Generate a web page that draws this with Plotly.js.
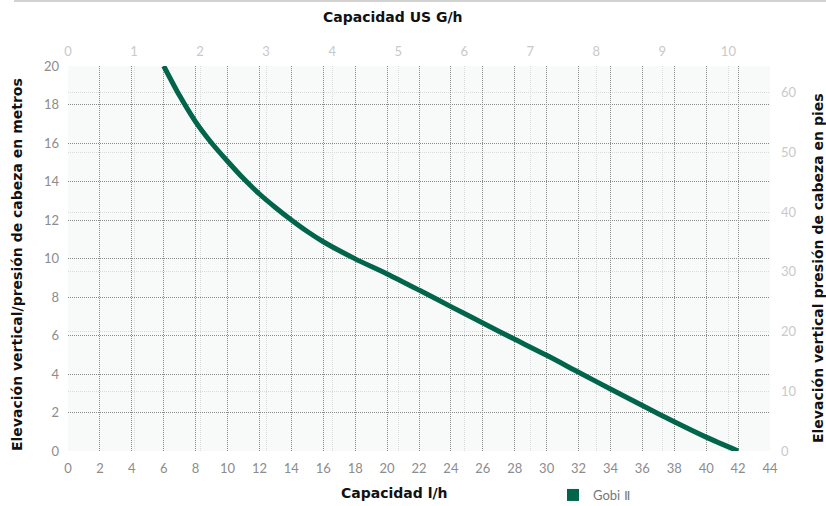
<!DOCTYPE html>
<html>
<head>
<meta charset="utf-8">
<script src="https://cdn.plot.ly/plotly-3.0.1.min.js"></script>
<style>
  html, body { margin: 0; padding: 0; background: #fff; }
  #wrap { position: relative; width: 826px; height: 506px; overflow: hidden; }
  #topline { position: absolute; top: 0; left: 14px; right: 0; height: 2px; background: #d2d2d2; z-index: 5; }
  #chart { width: 826px; height: 506px; }
</style>
</head>
<body>
<div id="wrap">
  <div id="topline"></div>
  <div id="chart"></div>
</div>
<script>
// Flow (l/h) vs head (m) for the Gobi II pump
const flowLh = [6, 7, 8, 9, 10, 11, 12, 13, 14, 15, 16, 18, 20, 22, 24, 26, 28, 30, 32, 34, 36, 38, 40, 42];
const headM  = [20, 18.45, 17.1, 16.0, 15.05, 14.15, 13.35, 12.65, 12.0, 11.4, 10.87, 9.98, 9.2, 8.36, 7.5, 6.65, 5.8, 4.97, 4.09, 3.22, 2.36, 1.52, 0.72, 0];
const seriesName = 'Gobi Ⅱ';

const titleTop = 'Capacidad US G/h';
const titleBottom = 'Capacidad l/h';
const titleLeft = 'Elevación vertical/presión de cabeza en metros';
const titleRight = 'Elevación vertical presión de cabeza en pies';

const green = '#00654b';
const tickDark = '#8c8c8c';
const tickLight = '#c9c9c9';
const gridDark = '#8a8a8a';
const gridLight = '#d9dcdc';
const titleFont = {family: 'DejaVu Sans', size: 14, color: '#111', weight: 'bold'};

// plot area in px: left 68, right 770, top 66, bottom 451
const W = 826, H = 506;
const L = 68, R = 770, T = 66, B = 451;
const px2x = p => (p - L) / (R - L);
const px2y = p => (B - p) / (B - T);

const traces = [
  { x: [], y: [], xaxis: 'x', yaxis: 'y', showlegend: false, hoverinfo: 'skip', type: 'scatter' },
  { x: flowLh, y: headM, xaxis: 'x2', yaxis: 'y2', type: 'scatter', mode: 'lines',
    line: {color: green, width: 5, shape: 'spline', smoothing: 0.8}, showlegend: false, name: seriesName },
  { x: flowLh, y: headM, xaxis: 'x2', yaxis: 'y2', type: 'scatter', mode: 'markers',
    marker: {color: green, size: 0.01, symbol: 'square'}, name: seriesName, showlegend: true, hoverinfo: 'skip' }
];

const layout = {
  width: W, height: H,
  margin: {l: L, r: W - R, t: T, b: H - B},
  paper_bgcolor: 'rgba(0,0,0,0)',
  plot_bgcolor: '#f8f9f9',
  showlegend: true,
  legend: {orientation: 'h', xref: 'container', yref: 'container', x: 553 / W, y: 1 - 480 / H,
    xanchor: 'left', yanchor: 'top',
    font: {family: 'Lato', size: 13, color: '#777'}, itemsizing: 'constant', bgcolor: 'rgba(0,0,0,0)'},
  xaxis: { // US gallons per hour, top
    side: 'top', range: [0, 10.63], dtick: 1, tick0: 0, showgrid: true, gridcolor: gridLight,
    griddash: '1px,1px', gridwidth: 1, zeroline: false, showline: false, ticks: '',
    tickfont: {family: 'Lato', size: 13, color: tickLight}, ticklabelstandoff: 6, fixedrange: true
  },
  yaxis: { // feet, right
    side: 'right', range: [0, 64.5], dtick: 10, tick0: 0, showgrid: true, gridcolor: gridLight,
    griddash: '1px,1px', gridwidth: 1, zeroline: false, showline: false, ticks: '',
    tickfont: {family: 'Lato', size: 13, color: tickLight}, ticklabelstandoff: 10, fixedrange: true
  },
  xaxis2: { // l/h, bottom
    overlaying: 'x', side: 'bottom', anchor: 'y2', range: [0, 44], dtick: 2, tick0: 0,
    showgrid: true, gridcolor: gridDark, griddash: '1px,1px', gridwidth: 1, zeroline: false,
    showline: false, ticks: '', tickfont: {family: 'Lato', size: 13, color: tickDark},
    ticklabelstandoff: 8, fixedrange: true
  },
  yaxis2: { // metres, left
    overlaying: 'y', side: 'left', anchor: 'x2', range: [0, 20], dtick: 2, tick0: 0,
    showgrid: true, gridcolor: gridDark, griddash: '1px,1px', gridwidth: 1, zeroline: false,
    showline: false, ticks: '', tickfont: {family: 'Lato', size: 13, color: tickDark},
    ticklabelstandoff: 8, fixedrange: true
  },
  annotations: [
    {text: titleTop, xref: 'paper', yref: 'paper', x: px2x(393), y: px2y(17), showarrow: false,
     xanchor: 'center', yanchor: 'middle', font: titleFont},
    {text: titleBottom, xref: 'paper', yref: 'paper', x: px2x(394), y: px2y(493), showarrow: false,
     xanchor: 'center', yanchor: 'middle', font: titleFont},
    {text: titleLeft, xref: 'paper', yref: 'paper', x: px2x(17), y: px2y(265), showarrow: false,
     textangle: -90, xanchor: 'center', yanchor: 'middle', font: titleFont},
    {text: titleRight, xref: 'paper', yref: 'paper', x: px2x(818), y: px2y(268), showarrow: false,
     textangle: -90, xanchor: 'center', yanchor: 'middle', font: titleFont}
  ]
};

Plotly.newPlot('chart', traces, layout, {displayModeBar: false, staticPlot: true});
</script>
</body>
</html>
